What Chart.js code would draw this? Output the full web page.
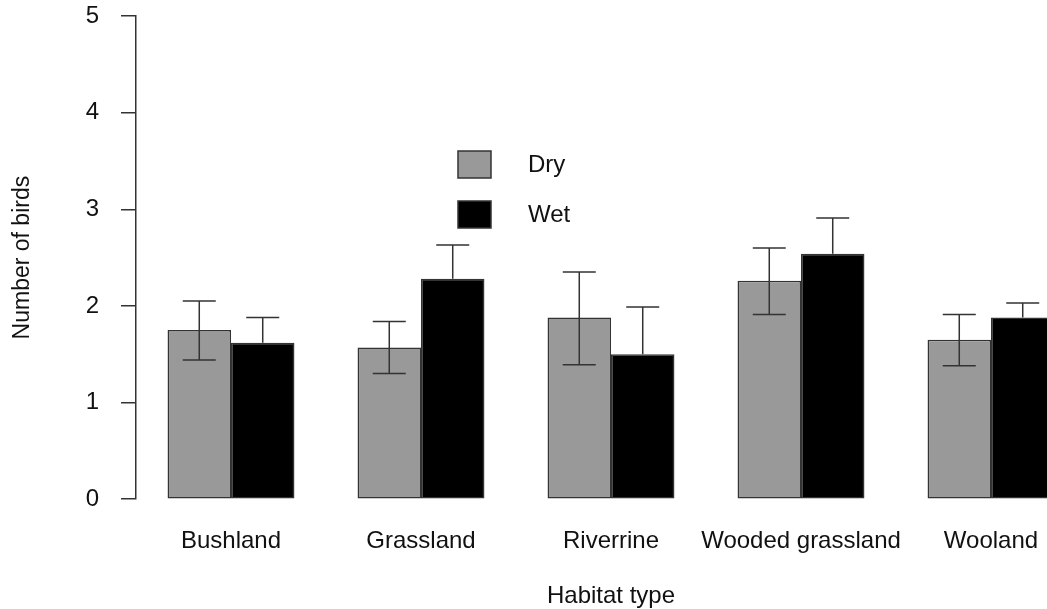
<!DOCTYPE html>
<html>
<head>
<meta charset="utf-8">
<script src="https://cdn.jsdelivr.net/npm/chart.js@4.4.1/dist/chart.umd.min.js"></script>
<style>
  html, body { margin: 0; padding: 0; background: #fff; overflow: hidden; }
  #wrap { position: relative; width: 1100px; height: 609px; }
</style>
</head>
<body>
<div id="wrap"><canvas id="birds"></canvas></div>

<script>
    var habitats = ['Bushland', 'Grassland', 'Riverrine', 'Wooded grassland', 'Wooland'];
    var dryMean = [1.75, 1.57, 1.88, 2.26, 1.65];
    var dryLow  = [1.44, 1.30, 1.39, 1.91, 1.38];
    var dryHigh = [2.05, 1.84, 2.35, 2.60, 1.91];
    var wetMean = [1.62, 2.28, 1.50, 2.54, 1.88];
    var wetHigh = [1.88, 2.63, 1.99, 2.91, 2.03];
    var yTicks = [0, 1, 2, 3, 4, 5];

    var ink = '#111';
    var lineCol = '#333';
    var font = 'Liberation Sans, Arial, sans-serif';

    // error bars over the bars; lower whisker of the black bars is lost in the fill
    var errorBars = {
        id: 'errorBars',
        afterDatasetsDraw: function(chart) {
            var ctx = chart.ctx;
            var y = chart.scales.y;
            ctx.save();
            ctx.strokeStyle = lineCol;
            ctx.lineWidth = 1.5;
            chart.data.datasets.forEach(function(ds, di) {
                var meta = chart.getDatasetMeta(di);
                meta.data.forEach(function(bar, i) {
                    var half = bar.width * 0.26;
                    var top = y.getPixelForValue(ds.errHigh[i]);
                    var bot = ds.errLow ? y.getPixelForValue(ds.errLow[i]) : bar.y;
                    ctx.beginPath();
                    ctx.moveTo(bar.x, top); ctx.lineTo(bar.x, bot);
                    ctx.moveTo(bar.x - half, top); ctx.lineTo(bar.x + half, top);
                    if (ds.errLow) {
                        ctx.moveTo(bar.x - half, bot); ctx.lineTo(bar.x + half, bot);
                    }
                    ctx.stroke();
                });
            });
            ctx.restore();
        }
    };

    // R style legend inside the plot
    var boxLegend = {
        id: 'boxLegend',
        afterDraw: function(chart) {
            var ctx = chart.ctx;
            var a = chart.chartArea;
            var x0 = a.left + 322;
            var y0 = a.top + 135;
            ctx.save();
            chart.data.datasets.forEach(function(ds, i) {
                var by = y0 + i * 50;
                ctx.fillStyle = ds.backgroundColor;
                ctx.fillRect(x0, by, 33, 27);
                ctx.strokeStyle = lineCol;
                ctx.lineWidth = 1.5;
                ctx.strokeRect(x0, by, 33, 27);
                ctx.fillStyle = ink;
                ctx.font = '24px ' + font;
                ctx.textBaseline = 'middle';
                ctx.fillText(ds.label, x0 + 70, by + 14);
            });
            ctx.restore();
        }
    };

    var ctx = document.getElementById('birds').getContext('2d');
    var birdChart = new Chart(ctx, {
        type: 'bar',
        data: {
            labels: habitats,
            datasets: [{
                label: 'Dry',
                data: dryMean,
                errLow: dryLow,
                errHigh: dryHigh,
                backgroundColor: '#999999',
                borderColor: lineCol,
                borderWidth: 1.5,
                borderSkipped: false
            }, {
                label: 'Wet',
                data: wetMean,
                errHigh: wetHigh,
                backgroundColor: '#000000',
                borderColor: lineCol,
                borderWidth: 1.5,
                borderSkipped: false
            }]
        },
        options: {
            responsive: true,
            maintainAspectRatio: false,
            animation: false,
            categoryPercentage: 0.668,
            barPercentage: 1.0,
            layout: { padding: { top: 16, right: 14, bottom: 0, left: 0 } },
            plugins: {
                legend: { display: false },
                tooltip: { enabled: false }
            },
            scales: {
                x: {
                    offset: true,
                    grid: { display: false, drawTicks: false },
                    border: { display: false },
                    ticks: {
                        color: ink,
                        font: { family: font, size: 24 },
                        padding: 28,
                        autoSkip: false,
                        maxRotation: 0,
                        minRotation: 0
                    },
                    title: {
                        display: true,
                        text: 'Habitat type',
                        color: ink,
                        font: { family: font, size: 24, lineHeight: 1 },
                        padding: { top: 0, bottom: 1 }
                    }
                },
                y: {
                    min: 0,
                    max: 5,
                    afterBuildTicks: function(scale) {
                        scale.ticks = yTicks.map(function(v) { return { value: v }; });
                    },
                    afterFit: function(scale) {
                        scale.width = 136;
                        scale.paddingTop = 12;
                        scale.paddingBottom = 12;
                    },
                    grid: {
                        drawOnChartArea: false,
                        drawTicks: true,
                        tickLength: 15,
                        color: lineCol,
                        lineWidth: 1.5
                    },
                    border: { display: true, color: lineCol, width: 1.5 },
                    ticks: {
                        color: ink,
                        font: { family: font, size: 24 },
                        padding: 22
                    },
                    title: {
                        display: true,
                        text: 'Number of birds',
                        color: ink,
                        font: { family: font, size: 23 },
                        padding: { top: 9, bottom: 0 }
                    }
                }
            }
        },
        plugins: [errorBars, boxLegend]
    });
</script>
</body>
</html>
